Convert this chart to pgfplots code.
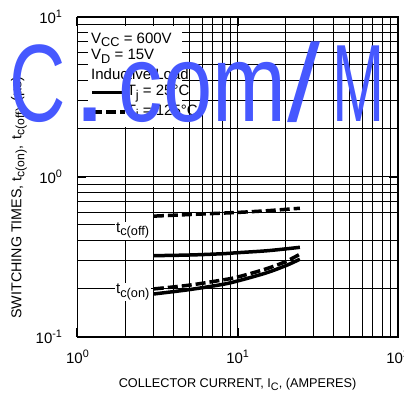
\documentclass[border=0pt]{standalone}
\usepackage{fontspec}
\setmainfont{Liberation Sans}
\usepackage{pgfplots}
\pgfplotsset{compat=1.18}
\definecolor{wm}{RGB}{70,88,255}
\newcommand{\sbs}[1]{\raisebox{-0.4ex}{\scalebox{0.85}{#1}}}
\newcommand{\sps}[1]{\raisebox{0.75ex}{\scalebox{0.72}{#1}}}
\begin{document}
\begin{tikzpicture}[x=1pt,y=1pt]
\begin{axis}[
  at={(0pt,0pt)}, anchor=south west,
  scale only axis, width=320.2pt, height=320pt,
  xmode=log, ymode=log,
  xmin=1, xmax=100, ymin=0.1, ymax=10,
  xtick={1,10,100},
  xticklabels={10\sps{0},10\sps{1},10\sps{2}},
  ytick={0.1,1,10},
  yticklabels={10\sps{-1},10\sps{0},10\sps{1}},
  minor xtick={2,3,4,5,6,7,8,9,20,30,40,50,60,70,80,90},
  minor ytick={0.2,0.3,0.4,0.6,0.7,0.8,0.9,2,3,4,5,6,7,8,9},
  xmajorgrids, ymajorgrids, xminorgrids, yminorgrids,
  major grid style={line width=1pt, black},
  minor grid style={line width=1pt, black},
  tick align=inside,
  major tick length=9pt,
  minor tick length=0pt,
  every tick/.style={black, line width=2pt},
  axis line style={line width=1.8pt},
  tick label style={font=\fontsize{15}{17}\selectfont},
  yticklabel style={xshift=-12pt},
  xticklabel style={yshift=-10pt},
  xlabel={COLLECTOR CURRENT, I\sbs{C}, (AMPERES)},
  ylabel={SWITCHING TIMES, t\sbs{c(on)}, \,t\sbs{c(off)} \,(µs)},
  xlabel style={font=\fontsize{12.7}{14}\selectfont, at={(axis description cs:0.5,-0.16)}, anchor=base},
  ylabel style={font=\fontsize{14.3}{16}\selectfont, at={(axis description cs:-0.183,0.435)}, anchor=center},
  legend style={at={(rel axis cs:0.0392,0.786)}, anchor=north west, draw=none, fill=none,
    font=\fontsize{15}{17}\selectfont, inner sep=0pt, row sep=5.5pt,
    nodes={inner sep=0pt, text height=10.5pt, text depth=3.5pt},
    /tikz/every even column/.append style={column sep=9pt}},
  legend cell align=left,
  legend image code/.code={\draw[#1] (0pt,0pt) -- (33pt,0pt);},
]
% white box behind annotations
\fill[white] (rel axis cs:0.0328,0.9709) rectangle (rel axis cs:0.3264,0.6553);
\node[anchor=base west, inner sep=0pt, font=\fontsize{15}{17}\selectfont] at (rel axis cs:0.0422,0.9178) {V\sbs{CC} = 600V};
\node[anchor=base west, inner sep=0pt, font=\fontsize{15}{17}\selectfont] at (rel axis cs:0.0422,0.8647) {V\sbs{D} = 15V};
\node[anchor=base west, inner sep=0pt, font=\fontsize{15}{17}\selectfont] at (rel axis cs:0.0422,0.8053) {Inductive Load};

% tc(off), Tj = 25C
\addplot[black, line width=3.5pt, smooth] coordinates {
  (3,0.321)(5,0.324)(8,0.330)(10,0.335)(15,0.344)(20,0.354)(24.5,0.362)};
\addlegendentry{T\sbs{j} = 25°C}
% tc(off), Tj = 125C
\addplot[black, line width=3.5pt, smooth, dash pattern=on 10pt off 4pt] coordinates {
  (3,0.567)(5,0.580)(8,0.592)(10,0.598)(15,0.612)(20,0.625)(24.5,0.635)};
\addlegendentry{T\sbs{j} = 125°C}
% tc(on), Tj = 25C
\addplot[black, line width=3.5pt, smooth, forget plot] coordinates {
  (3,0.185)(5,0.197)(8,0.212)(10,0.223)(15,0.250)(20,0.278)(24.5,0.305)};
% tc(on), Tj = 125C
\addplot[black, line width=3.5pt, smooth, dash pattern=on 10pt off 4pt, forget plot] coordinates {
  (3,0.199)(5,0.210)(8,0.226)(10,0.236)(15,0.265)(20,0.295)(24.5,0.328)};

% curve labels with leaders
\draw[black, line width=1pt] (axis cs:1,0.5) -- (axis cs:1.72,0.5);
\node[fill=white, inner sep=1.2pt, anchor=base west, font=\fontsize{15}{17}\selectfont] at (axis cs:1.71,0.447) {t\sbs{c(off)}};
\node[fill=white, inner sep=1.2pt, anchor=base west, font=\fontsize{15}{17}\selectfont] at (axis cs:1.71,0.185) {t\sbs{c(on)}};
\end{axis}
% watermark
\begin{scope}[every node/.style={anchor=base west, inner sep=0pt, text=wm, font=\fontsize{110}{110}\selectfont}]
\node at (-68.3,214.7) {\scalebox{0.71}[1]{C}};
\node at (-5,214.7) {\scalebox{1.15}{.}};
\node at (41,214.7) {\scalebox{0.806}[1]{com}};
\node at (209.5,214.7) {\scalebox{1.08}[1]{/}};
\node at (254.9,214.7) {\scalebox{0.57}[1]{M}};
\end{scope}
\pgfresetboundingbox
\path (-77.5,-59.3) rectangle (326.5,336.7);
\end{tikzpicture}
\end{document}
